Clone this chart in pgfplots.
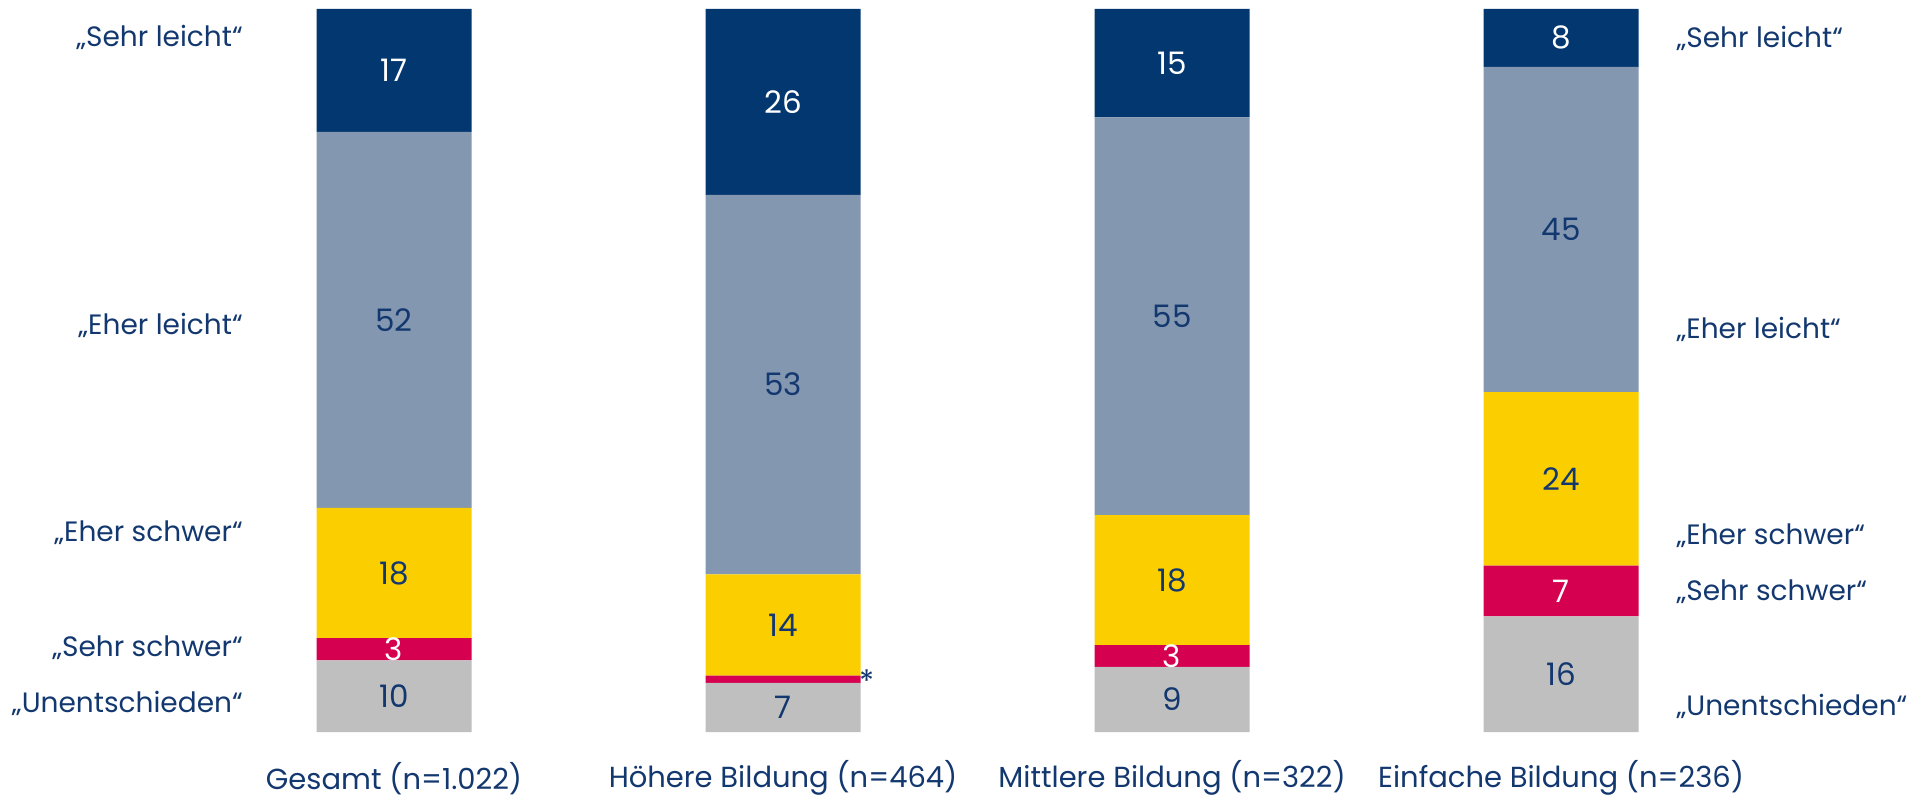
\documentclass[border=0pt]{standalone}
\usepackage{fontspec}
\setmainfont{Poppins}
\usepackage{pgfplots}
\usepackage{pgfplotstable}
\pgfplotsset{compat=1.18}
\definecolor{dblue}{HTML}{03376F}
\definecolor{gblue}{HTML}{8497B0}
\definecolor{cyell}{HTML}{FBCE00}
\definecolor{cred}{HTML}{D5004F}
\definecolor{cgray}{HTML}{BFBFBF}
\definecolor{txt}{HTML}{13386F}
\newcommand\labfont{\fontsize{14}{17}\selectfont}
\newcommand\catfont{\fontsize{14.5}{17}\selectfont}
\newcommand\numfont{\fontsize{15.5}{18}\selectfont}
\pgfplotstableread{
x unent sschwer eschwer eleicht sleicht lu ls le ll lsl
0 9.9 3.1 18 52 17 10 3 18 52 17
1 6.8 1.0 14 52.5 25.7 7 {} 14 53 26
2 9 3 18 55 15 9 3 18 55 15
3 16 7 24 45 8 16 7 24 45 8
}\datatab
\pgfplotsset{base/.style={scale only axis, width=965.5pt, height=398pt,
  xmin=-1.0129, xmax=3.951, ymin=-8.85, ymax=101.24,
  hide axis, clip=false},
  lab/.style={only marks, mark=none, nodes near coords, point meta=explicit symbolic,
  every node near coord/.append style={anchor=center, text=#1, font=\numfont}}}
\begin{document}
\begin{tikzpicture}
\begin{axis}[name=ax, base, ybar stacked, bar width=77.5pt]
\addplot[fill=cgray, draw=none] table[x=x, y=unent]{\datatab};
\addplot[fill=cred, draw=none] table[x=x, y=sschwer]{\datatab};
\addplot[fill=cyell, draw=none] table[x=x, y=eschwer]{\datatab};
\addplot[fill=gblue, draw=none] table[x=x, y=eleicht]{\datatab};
\addplot[fill=dblue, draw=none] table[x=x, y=sleicht]{\datatab};
\end{axis}
\begin{axis}[base]
\addplot[lab=txt] table[x=x, y expr=\thisrow{unent}/2, meta=lu]{\datatab};
\addplot[lab=white] table[x=x, y expr=\thisrow{unent}+\thisrow{sschwer}/2, meta=ls]{\datatab};
\addplot[lab=txt] table[x=x, y expr=\thisrow{unent}+\thisrow{sschwer}+\thisrow{eschwer}/2, meta=le]{\datatab};
\addplot[lab=txt] table[x=x, y expr=\thisrow{unent}+\thisrow{sschwer}+\thisrow{eschwer}+\thisrow{eleicht}/2, meta=ll]{\datatab};
\addplot[lab=white] table[x=x, y expr=\thisrow{unent}+\thisrow{sschwer}+\thisrow{eschwer}+\thisrow{eleicht}+\thisrow{sleicht}/2, meta=lsl]{\datatab};
\node[text=txt, font=\numfont] at (axis cs:1.216,7.1) {*};
% left labels
\begin{scope}[every node/.style={anchor=east, inner sep=0pt, text=txt, font=\labfont}]
\node at (axis cs:-0.388,96.1) {„Sehr leicht“};
\node at (axis cs:-0.388,56.3) {„Eher leicht“};
\node at (axis cs:-0.388,27.5) {„Eher schwer“};
\node at (axis cs:-0.388,11.6) {„Sehr schwer“};
\node at (axis cs:-0.388,4.0) {„Unentschieden“};
\end{scope}
\begin{scope}[every node/.style={anchor=west, inner sep=0pt, text=txt, font=\labfont}]
\node at (axis cs:3.296,95.9) {„Sehr leicht“};
\node at (axis cs:3.296,55.7) {„Eher leicht“};
\node at (axis cs:3.296,27.1) {„Eher schwer“};
\node at (axis cs:3.296,19.4) {„Sehr schwer“};
\node at (axis cs:3.296,3.6) {„Unentschieden“};
\end{scope}
\begin{scope}[every node/.style={anchor=center, text=txt, font=\catfont}]
\node at (axis cs:0,-6.4) {Gesamt (n=1.022)};
\node at (axis cs:1,-6.4) {Höhere Bildung (n=464)};
\node at (axis cs:2,-6.4) {Mittlere Bildung (n=322)};
\node at (axis cs:3,-6.4) {Einfache Bildung (n=236)};
\end{scope}
\end{axis}
\pgfresetboundingbox
\path (ax.south west) rectangle (ax.north east);
\end{tikzpicture}
\end{document}
